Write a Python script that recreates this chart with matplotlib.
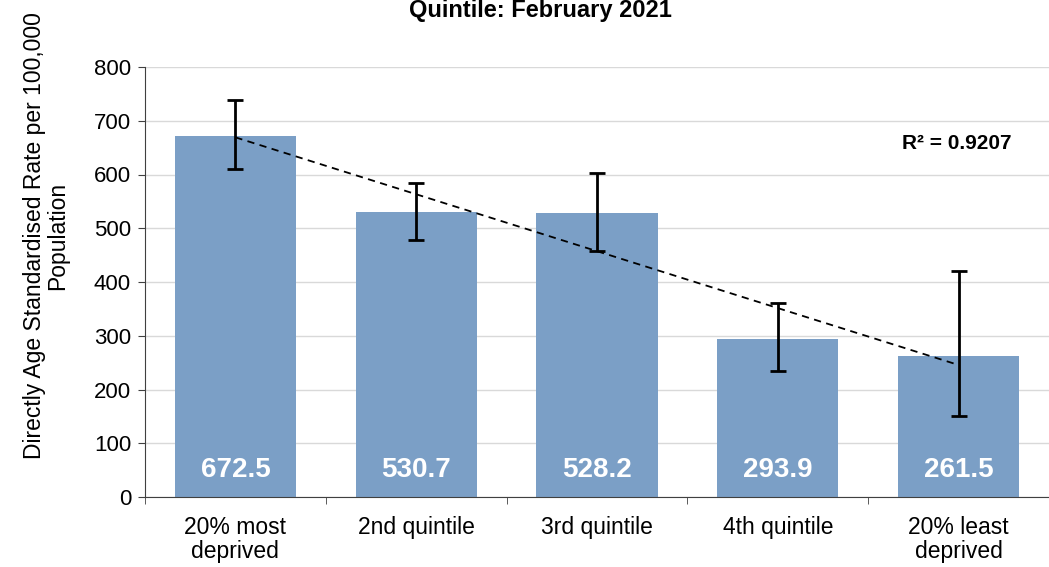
import numpy as np
import matplotlib
matplotlib.use("Agg")
import matplotlib.pyplot as plt

plt.rcParams["font.family"] = ["Liberation Sans", "DejaVu Sans"]

categories = ["20% most\ndeprived", "2nd quintile", "3rd quintile", "4th quintile", "20% least\ndeprived"]
rates = [672.5, 530.7, 528.2, 293.9, 261.5]
ci_lower = [610, 478, 458, 235, 151]
ci_upper = [738, 585, 603, 361, 420]
r_squared = 0.9207

BAR_COLOR = "#7b9fc6"

fig = plt.figure(figsize=(10.49, 5.67), dpi=100)
ax = fig.add_axes([145 / 1049, 1 - 497 / 567, 1 - 145 / 1049, (497 - 67) / 567])

x = np.arange(len(categories))
ax.bar(x, rates, width=0.67, color=BAR_COLOR, zorder=2)

err = [np.array(rates) - np.array(ci_lower), np.array(ci_upper) - np.array(rates)]
ax.errorbar(x, rates, yerr=err, fmt="none", ecolor="black", elinewidth=2,
            capsize=6, capthick=2, zorder=4)

# linear trendline
slope, intercept = np.polyfit(x, rates, 1)
ax.plot(x, slope * x + intercept, color="black", linestyle=(0, (4, 3)), linewidth=1.3, zorder=3)
ax.text((1012 - 145) / (1049 - 145), 0.823, f"R² = {r_squared}", transform=ax.transAxes,
        ha="right", va="center", fontsize=15, fontweight="bold")

for xi, v in zip(x, rates):
    ax.text(xi, 50, f"{v}", ha="center", va="center", color="white",
            fontsize=20, fontweight="bold", zorder=5)

ax.set_ylim(0, 800)
ax.set_xlim(-0.5, len(categories) - 0.5)
ax.set_yticks(np.arange(0, 801, 100))
ax.yaxis.grid(True, color="#d9d9d9", linewidth=1)
ax.set_axisbelow(True)

ax.set_xticks(x)
ax.set_xticklabels(categories, fontsize=16.5, linespacing=1.05)
ax.tick_params(axis="x", which="major", length=0, pad=14)
ax.set_xticks(np.arange(-0.5, len(categories)), minor=True)
ax.tick_params(axis="x", which="minor", length=5, color="#404040")
ax.tick_params(axis="y", labelsize=16, length=5, color="#404040", pad=5)

for side in ["top", "right"]:
    ax.spines[side].set_visible(False)
ax.spines["left"].set_color("#404040")
ax.spines["bottom"].set_color("#404040")

fig.text(46 / 1049, 1 - 236 / 567, "Directly Age Standardised Rate per 100,000\nPopulation",
         rotation=90, ha="center", va="center", fontsize=16.5, linespacing=1.0)
fig.text(540 / 1049, 1 - 17 / 567, "Quintile: February 2021", ha="center", va="baseline",
         fontsize=17, fontweight="bold")

fig.savefig("out.png", dpi=100)
